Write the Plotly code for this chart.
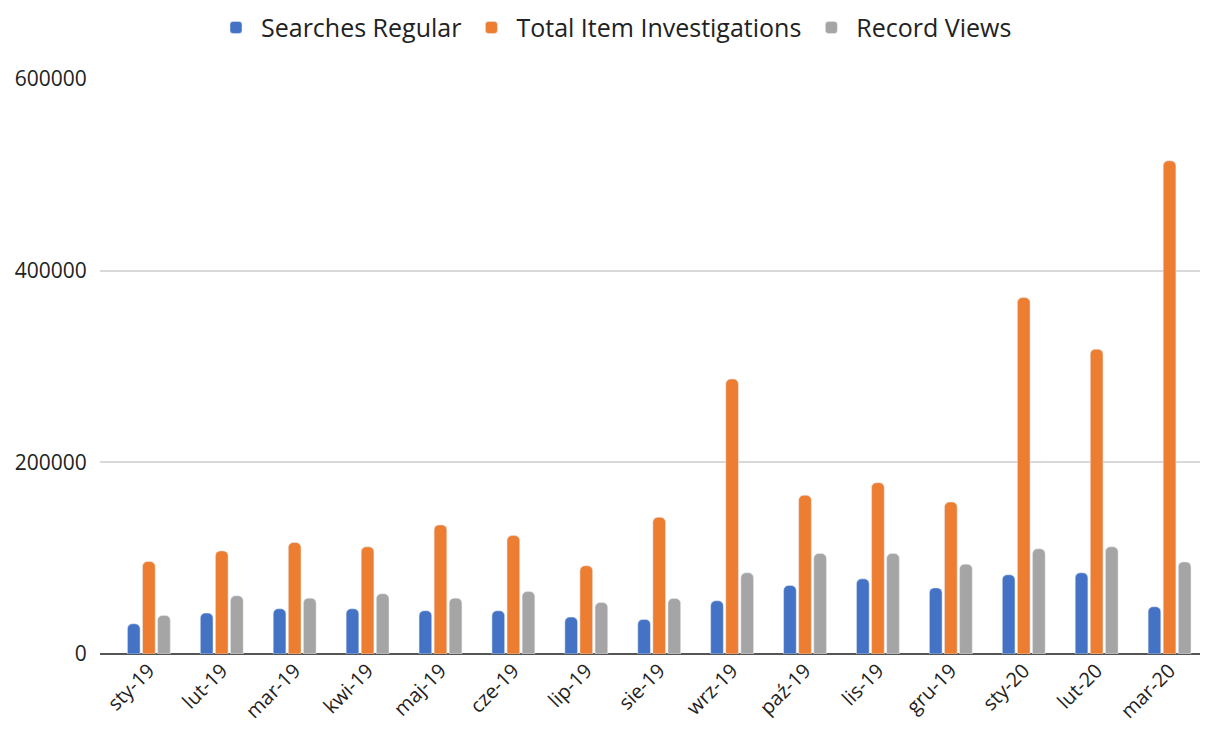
import plotly.graph_objects as go

months = ["sty-19", "lut-19", "mar-19", "kwi-19", "maj-19", "cze-19", "lip-19", "sie-19",
          "wrz-19", "paź-19", "lis-19", "gru-19", "sty-20", "lut-20", "mar-20"]
searches_regular = [31500, 42700, 47200, 47200, 45100, 45100, 38500, 36100,
                    55500, 71500, 78400, 69000, 82600, 84700, 49300]
total_item_investigations = [96500, 107600, 116300, 111800, 134700, 123600, 92000, 142700,
                             286900, 165600, 178800, 158600, 371900, 318100, 514600]
record_views = [40300, 60700, 58300, 62800, 58300, 65300, 53800, 58000,
                84700, 104900, 104900, 93750, 109700, 111800, 96100]
y_ticks = [0, 200000, 400000, 600000]

FONT = "Open Sans"
fig = go.Figure()
fig.add_trace(go.Bar(name="Searches Regular", x=months, y=searches_regular, marker_color="#4472C4"))
fig.add_trace(go.Bar(name="Total Item Investigations", x=months, y=total_item_investigations, marker_color="#ED7D31"))
fig.add_trace(go.Bar(name="Record Views", x=months, y=record_views, marker_color="#A5A5A5"))

# the page adds an 8px body margin, so the figure is sized 1200x730
fig.update_layout(
    width=1200, height=730,
    margin=dict(l=92, r=2, t=71, b=84),
    paper_bgcolor="white", plot_bgcolor="white",
    barmode="group", bargap=0.379, bargroupgap=0.16, barcornerradius=5,
    font=dict(family=FONT, color="#222222"),
    legend=dict(orientation="h", xref="container", x=0.505, xanchor="center",
                yref="container", y=0.973, yanchor="middle", itemwidth=40,
                font=dict(size=25, color="#222222"), traceorder="normal"),
    xaxis=dict(type="category", range=[-0.67, 14.5], showgrid=False, ticks="",
               tickangle=-45, tickfont=dict(size=20, color="#222222"), showline=False,
               automargin=False),
    yaxis=dict(range=[0, 600000], tickvals=y_ticks, ticktext=[str(v) for v in y_ticks],
               showgrid=True, gridcolor="#D9D9D9", gridwidth=1.5,
               zeroline=True, zerolinecolor="#555555", zerolinewidth=2,
               ticks="outside", ticklen=8, tickcolor="rgba(0,0,0,0)",
               tickfont=dict(size=21, color="#222222"), automargin=False),
)
fig.write_html("out.html")
